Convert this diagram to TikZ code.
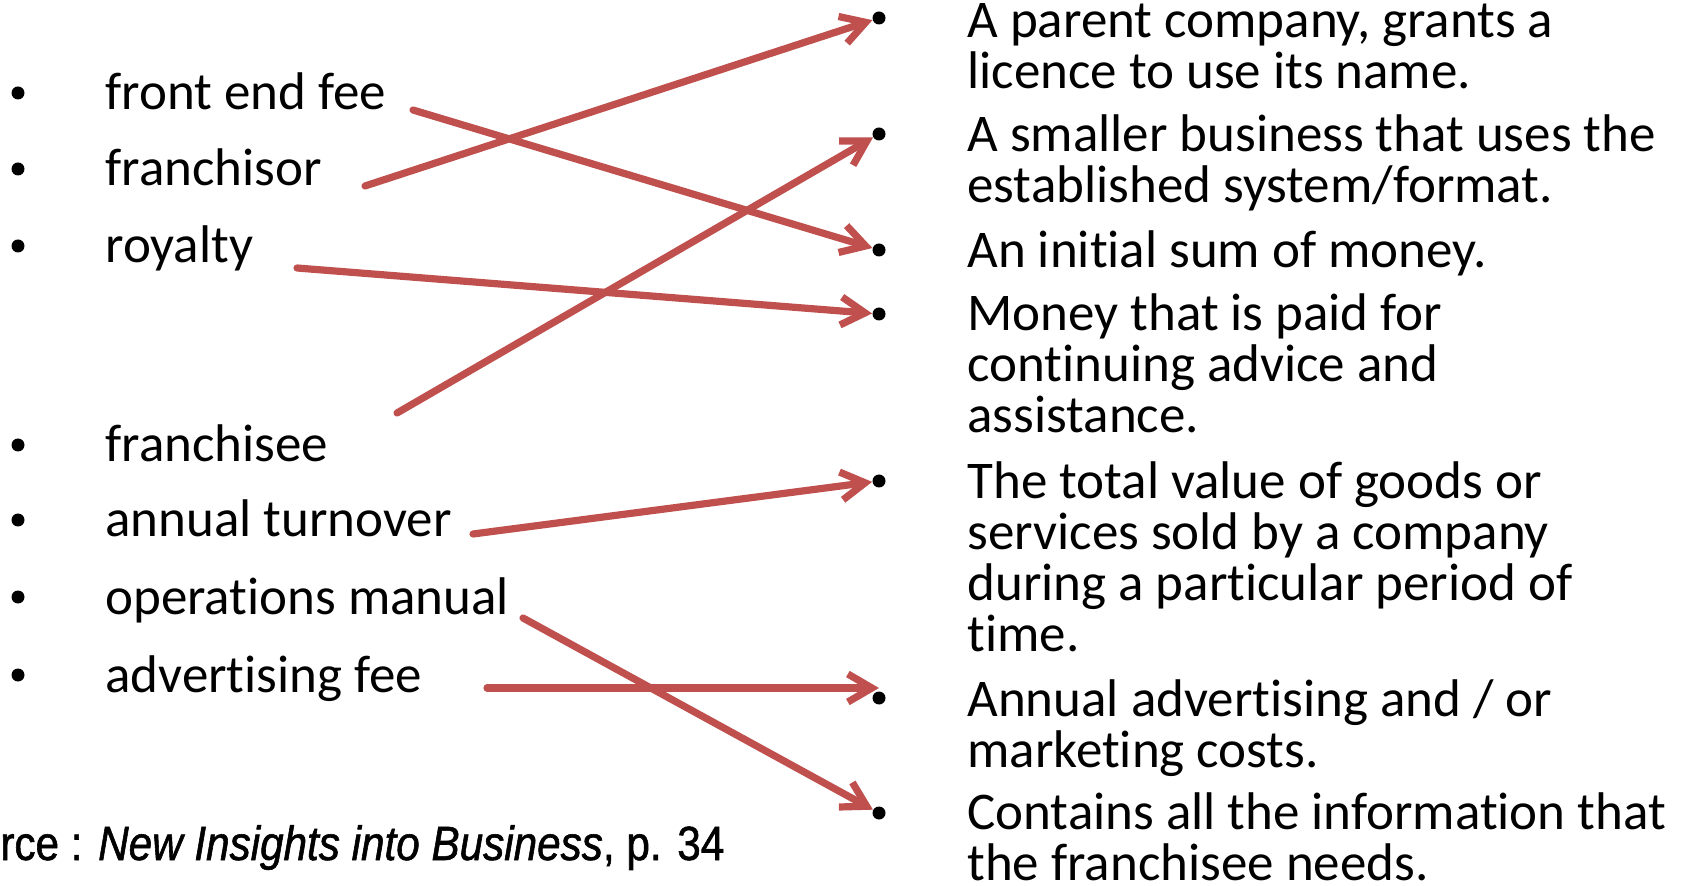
\documentclass[tikz,border=0pt]{standalone}
\usepackage{fontspec}
\setmainfont{Carlito}[Ligatures=CommonOff,Contextuals=AlternateOff,RawFeature=-dlig]
\newfontfamily\srcfont[FakeStretch=0.88,FakeBold=1.2]{Liberation Sans}
\usetikzlibrary{arrows.meta,calc}

\definecolor{arrowred}{RGB}{192,80,77}
\tikzset{
  term/.style={anchor=base west,inner sep=0pt,font=\fontsize{26.5}{25.5}\selectfont},
  meaning/.style={anchor=base west,inner sep=0pt,align=left,font=\fontsize{26.5}{25.5}\selectfont},
  dot/.style={circle,fill=black,inner sep=0pt,minimum size=6.5pt},
  match/.style={->,line width=3.6pt,draw=arrowred,line cap=round,line join=round},
}

\begin{document}
\begin{tikzpicture}[>={Straight Barb[length=12pt,width=14pt]},x=0.5pt,y=-0.5pt]
	\useasboundingbox (0,0) rectangle (1684,886);
%	\draw[gray,step=100] (0,0) grid (1684,886);

	% terms
	\node[dot] (l1) at (18,93) {};
	\node[dot] (l2) at (18,169) {};
	\node[dot] (l3) at (18,246) {};
	\node[dot] (l4) at (18,445) {};
	\node[dot] (l5) at (18,520) {};
	\node[dot] (l6) at (18,597) {};
	\node[dot] (l7) at (18,675) {};
	\node[term] (fee) at (105,110) {front end fee};
	\node[term] (franchisor) at (105,186) {franchisor};
	\node[term] (royalty) at (105,263) {royalty};
	\node[term] (franchisee) at (105,462) {franchisee};
	\node[term] (turnover) at (105,537) {annual turnover};
	\node[term] (manual) at (105,614) {operations manual};
	\node[term] (adfee) at (105,692) {advertising fee};

	% meanings (base = last line)
	\node[dot] (r1) at (879,18) {};
	\node[dot] (r2) at (879,134) {};
	\node[dot] (r3) at (879,250) {};
	\node[dot] (r4) at (879,314) {};
	\node[dot] (r5) at (879,481) {};
	\node[dot] (r6) at (879,698) {};
	\node[dot] (r7) at (879,813) {};
	\node[meaning] (m1) at (967,89) {A parent company, grants a\\licence to use its name.};
	\node[meaning] (m2) at (967,203) {A smaller business that uses the\\established system/format.};
	\node[meaning] (m3) at (967,268) {An initial sum of money.};
	\node[meaning] (m4) at (967,433) {Money that is paid for\\continuing advice and\\assistance.};
	\node[meaning] (m5) at (967,651) {The total value of goods or\\services sold by a company\\during a particular period of\\time.};
	\node[meaning] (m6) at (967,767) {Annual advertising and / or\\marketing costs.};
	\node[meaning] (m7) at (967,880) {Contains all the information that\\the franchisee needs.};

	\coordinate (s1) at (413,110);
	\coordinate (s2) at (365,186);
	\coordinate (s3) at (297,268);
	\coordinate (s4) at (397,413);
	\coordinate (s5) at (473,534);
	\coordinate (s6) at (523,618);
	\coordinate (s7) at (487,688);
	\draw[match] (s1) -- (r3);
	\draw[match] (s2) -- (r1);
	\draw[match] (s3) -- (r4);
	\draw[match] (s4) -- (r2);
	\draw[match] (s5) -- (r5);
	\draw[match] (s6) -- (r7);
	\draw[match] (s7) -- ($(r6)+(0,-10)$);

	\node[anchor=base west,inner sep=0pt,font=\srcfont\fontsize{24}{26}\selectfont] (src) at (0,860) {rce : \textit{New Insights into Business}, p. 34};
\end{tikzpicture}
\end{document}
